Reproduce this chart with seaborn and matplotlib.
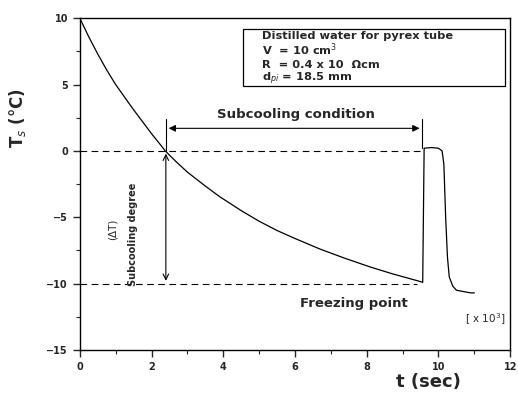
import numpy as np
import pandas as pd
import matplotlib
matplotlib.use("Agg")
import matplotlib.pyplot as plt
from matplotlib.patches import Rectangle
import seaborn as sns

# Data (time in 10^3 s, temperature in C)
t_vals = [0.0, 0.25, 0.5, 0.75, 1.0, 1.5, 2.0, 2.4, 2.7, 3.0, 3.5, 3.9, 4.5, 5.0, 5.5, 6.0,
          6.7, 7.4, 8.1, 8.7, 9.1, 9.5, 9.55, 9.56, 9.6, 9.8, 10.0, 10.1, 10.15, 10.2,
          10.25, 10.3, 10.4, 10.5, 10.7, 10.9, 11.0]
T_vals = [10.0, 8.6, 7.3, 6.1, 5.0, 3.1, 1.3, -0.05, -0.85, -1.6, -2.65, -3.45, -4.5, -5.3, -6.0, -6.6,
          -7.4, -8.1, -8.75, -9.25, -9.55, -9.85, -9.9, -9.9, 0.2, 0.25, 0.2, 0.0, -1.0, -5.0,
          -8.0, -9.5, -10.2, -10.5, -10.6, -10.7, -10.7]
x_ticks = [0, 2, 4, 6, 8, 10, 12]
y_ticks = [-15, -10, -5, 0, 5, 10]
info_lines = ["Distilled water for pyrex tube", "V  = 10 cm$^3$", "R  = 0.4 x 10  \u03a9cm", "d$_{pi}$ = 18.5 mm"]

df = pd.DataFrame({"t": t_vals, "T": T_vals})

sns.set_style("ticks")
plt.rcParams['font.family'] = ['DejaVu Sans']
fig = plt.figure(figsize=(5.18, 3.95), dpi=100)
ax = fig.add_axes([0.154, 0.114, 0.831, 0.84])

sns.lineplot(data=df, x="t", y="T", ax=ax, color="black", linewidth=0.9, sort=False)

ax.set_xlim(0, 12)
ax.set_ylim(-15, 10)
ax.set_xticks(x_ticks)
ax.set_yticks(y_ticks)
ax.set_xticks(np.arange(1, 12, 2), minor=True)
ax.set_yticks(np.arange(-12.5, 10, 5), minor=True)
ax.tick_params(axis="both", which="major", direction="out", length=5, width=1, labelsize=7)
ax.tick_params(axis="both", which="minor", direction="out", length=3, width=0.8)
for lab in ax.get_xticklabels() + ax.get_yticklabels():
    lab.set_fontweight("bold")
for s in ax.spines.values():
    s.set_linewidth(1.0)
    s.set_color("black")

ax.set_xlabel("t (sec)", fontsize=13, fontweight="bold")
ax.xaxis.set_label_coords(0.81, -0.07)
ax.set_ylabel("T$_s$ (°C)", fontsize=12, fontweight="bold")
ax.yaxis.set_label_coords(-0.12, 0.70)

# dashed reference lines
ax.plot([0, 9.55], [0, 0], ls=(0, (6, 4)), color="black", lw=0.8)
ax.plot([0, 9.4], [-10, -10], ls=(0, (6, 4)), color="black", lw=0.8)

# vertical subcooling-degree line
ax.plot([2.4, 2.4], [2.4, 0], color="black", lw=0.8)
ax.annotate("", xy=(2.4, -10), xytext=(2.4, 0),
            arrowprops=dict(arrowstyle="<->", color="black", lw=0.8))

# horizontal subcooling condition arrow
ax.annotate("", xy=(2.4, 1.7), xytext=(9.55, 1.7),
            arrowprops=dict(arrowstyle="<|-|>", color="black", lw=0.8, mutation_scale=10))
ax.plot([9.55, 9.55], [2.4, 0.2], color="black", lw=0.8)
ax.text(6.03, 2.75, "Subcooling condition", fontsize=9.5, fontweight="bold", ha="center", va="center")

ax.text(1.48, -6.3, "Subcooling degree", fontsize=7, fontweight="bold", rotation=90, ha="center", va="center")
ax.text(0.92, -5.9, "(\u0394T)", fontsize=7.5, rotation=90, ha="center", va="center")
ax.text(7.65, -11.5, "Freezing point", fontsize=9.5, fontweight="bold", ha="center", va="center")
ax.text(11.85, -12.7, "[ x 10$^3$]", fontsize=7.5, ha="right", va="center")

# info box
ax.add_patch(Rectangle((4.55, 4.9), 11.86 - 4.55, 9.2 - 4.9, facecolor="white",
                       edgecolor="black", lw=0.9, zorder=3))
for yv, line in zip([8.67, 7.6, 6.5, 5.45], info_lines):
    ax.text(5.08, yv, line, fontsize=8.2, fontweight="bold", ha="left", va="center", zorder=4)

fig.savefig("out.png", dpi=100)
